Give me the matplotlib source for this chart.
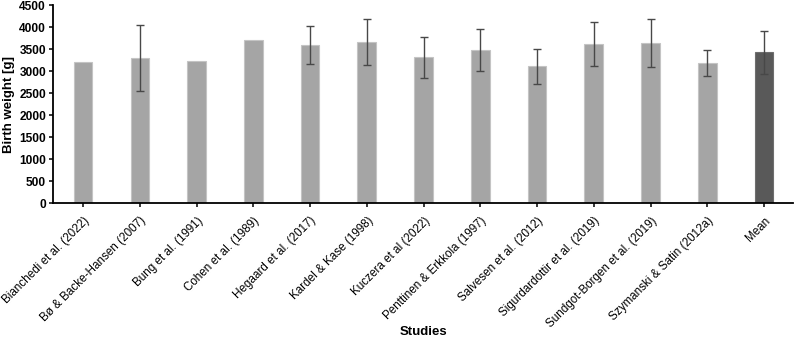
import matplotlib.pyplot as plt
import numpy as np

plt.rcParams['font.family'] = ['Liberation Sans', 'DejaVu Sans']

studies = [
    "Bianchedi et al. (2022)", "Bø & Backe-Hansen (2007)", "Bung et al. (1991)",
    "Cohen et al. (1989)", "Hegaard et al. (2017)", "Kardel & Kase (1998)",
    "Kuczera et al (2022)", "Penttinen & Erkkola (1997)", "Salvesen et al. (2012)",
    "Sigurdardottir et al. (2019)", "Sundgot-Borgen et al. (2019)",
    "Szymanski & Satin (2012a)", "Mean",
]
weight = [3210, 3305, 3235, 3700, 3590, 3670, 3320, 3480, 3110, 3615, 3630, 3190, 3425]
sd = [np.nan, 752, np.nan, np.nan, 430, 520, 465, 485, 400, 500, 545, 300, 480]
colors = ['#a5a5a5'] * 12 + ['#595959']
edges = ['#c4c4c4'] * 12 + ['#6e6e6e']

fig = plt.figure(figsize=(7.94, 3.40), dpi=100)
ax = fig.add_axes([0.0668, 0.4015, 0.932, 0.5835])

x = np.arange(len(studies))
ax.bar(x, weight, width=0.33, color=colors, edgecolor=edges, linewidth=0.8, zorder=2)
ax.errorbar(x, weight, yerr=sd, fmt='none', ecolor='#484848', elinewidth=1.0,
            capsize=3, capthick=1.0, zorder=3)

ax.set_xlim(-0.53, 12.51)
ax.set_ylim(0, 4500)
ax.set_yticks(np.arange(0, 4501, 500))
ax.set_xticks(x)
ax.set_xticklabels(studies, rotation=45, ha='right', rotation_mode='anchor', fontsize=8.4)
for lab in ax.get_yticklabels():
    lab.set_fontweight('bold')
    lab.set_fontsize(8.6)

for side in ['top', 'right']:
    ax.spines[side].set_visible(False)
for side in ['left', 'bottom']:
    ax.spines[side].set_linewidth(1.3)
ax.tick_params(axis='both', direction='out', length=3, width=1.1, pad=2)
ax.tick_params(axis='x', pad=5)

ax.set_ylabel("Birth weight [g]", fontsize=9.5, fontweight='bold', va='center')
ax.yaxis.set_label_coords(-0.0595, 0.5)
ax.set_xlabel("Studies", fontsize=9.5, fontweight='bold', va='center')
ax.xaxis.set_label_coords(0.5, -0.65)

fig.savefig("out.png", dpi=100)
